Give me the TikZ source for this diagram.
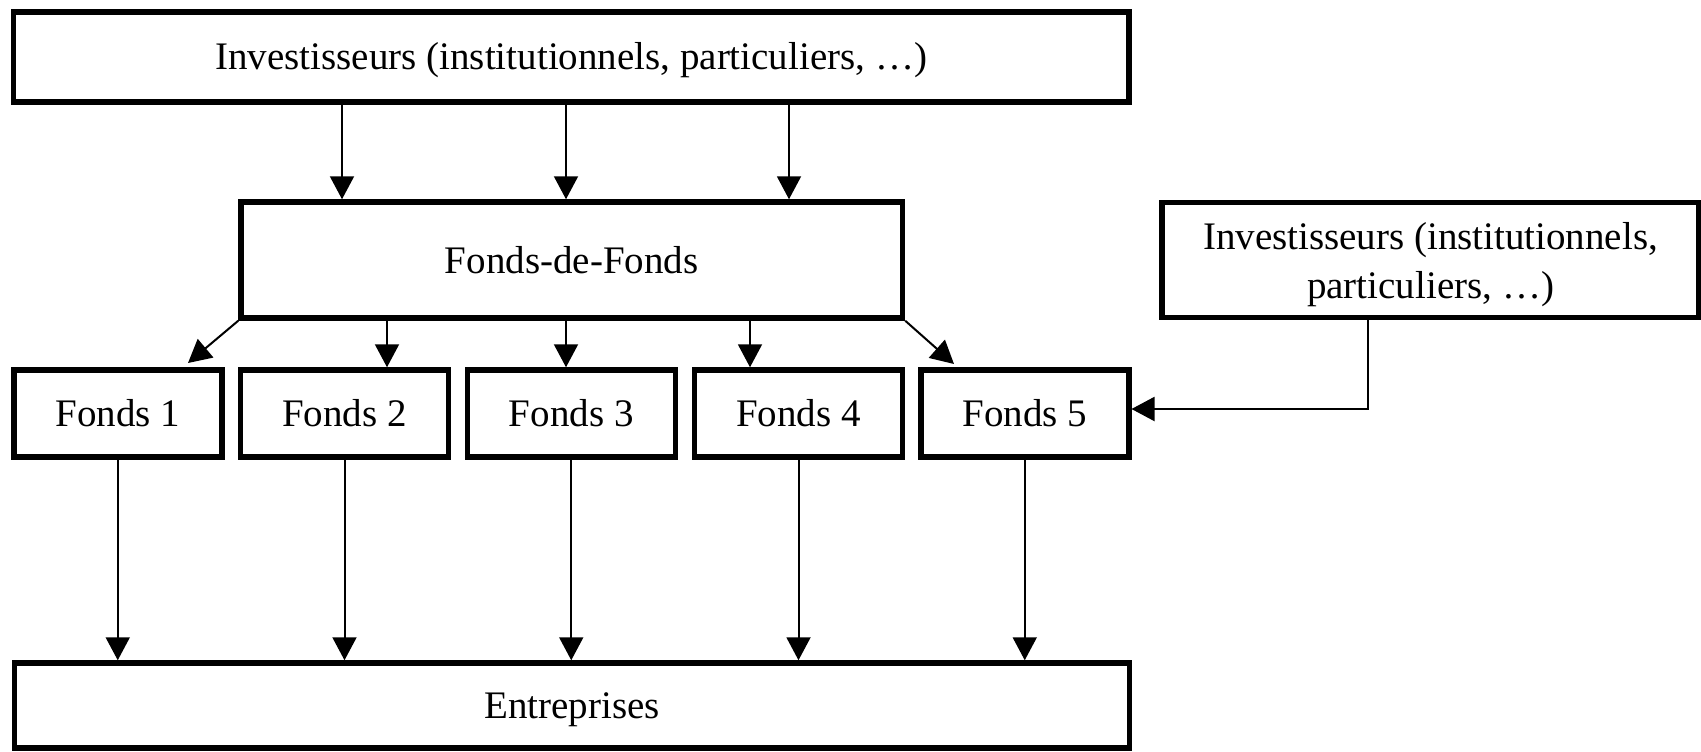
\documentclass[tikz,border=0pt]{standalone}
\usepackage{fontspec}
\setmainfont{Liberation Serif}
\usetikzlibrary{arrows.meta}
\begin{document}
\begin{tikzpicture}[x=1pt,y=-1pt,
  box/.style={draw, line width=5.5pt, inner sep=0pt, font=\fontsize{39}{49}\selectfont},
  oneline/.style={text height=26pt, text depth=0pt},
  fonds/.style={box, oneline, minimum width=208pt, minimum height=87pt},
  arr/.style={line width=2pt, -{Triangle[width=24pt,length=23pt]}}]
\useasboundingbox (0,0) rectangle (1701,752);

\node[box, oneline, minimum width=1115.5pt, minimum height=90pt] (inv) at (571.25,57)
  {Investisseurs (institutionnels, particuliers, …)};
\node[box, oneline, minimum width=661.5pt, minimum height=116pt] (fdf) at (571.75,260)
  {Fonds-de-Fonds};
\node[box, align=center, minimum width=537pt, minimum height=115pt] (inv2) at (1430.5,260)
  {\rule{0pt}{37pt}Investisseurs (institutionnels,\\particuliers, …)};

\node[fonds] (F1) at (117.75,413.5) {Fonds 1};
\node[fonds] (F2) at (344.5,413.5) {Fonds 2};
\node[fonds] (F3) at (571.25,413.5) {Fonds 3};
\node[fonds] (F4) at (798.5,413.5) {Fonds 4};
\node[fonds] (F5) at (1024.75,413.5) {Fonds 5};

\node[box, oneline, minimum width=1115pt, minimum height=85pt] (ent) at (572,705.5)
  {Entreprises};

% columns of the connectors
\coordinate (a1) at (342,0);
\coordinate (a2) at (566,0);
\coordinate (a3) at (789,0);
\coordinate (b2) at (387,0);
\coordinate (b3) at (566,0);
\coordinate (b4) at (750,0);
\coordinate (d1) at (188,363);
\coordinate (d5) at (954,364);
\coordinate (cv) at (1368,0);

\draw[arr] (inv.south -| a1) -- (fdf.north -| a1);
\draw[arr] (inv.south -| a2) -- (fdf.north -| a2);
\draw[arr] (inv.south -| a3) -- (fdf.north -| a3);

\draw[arr] (fdf.south west) -- (d1);
\draw[arr] (fdf.south -| b2) -- (F2.north -| b2);
\draw[arr] (fdf.south -| b3) -- (F3.north -| b3);
\draw[arr] (fdf.south -| b4) -- (F4.north -| b4);
\draw[arr] (fdf.south east) -- (d5);

\draw[arr] (inv2.south -| cv) |- ([yshift=4.5pt]F5.east);

\draw[arr] (F1.south) -- (ent.north -| F1.south);
\draw[arr] (F2.south) -- (ent.north -| F2.south);
\draw[arr] (F3.south) -- (ent.north -| F3.south);
\draw[arr] (F4.south) -- (ent.north -| F4.south);
\draw[arr] (F5.south) -- (ent.north -| F5.south);
\end{tikzpicture}
\end{document}
